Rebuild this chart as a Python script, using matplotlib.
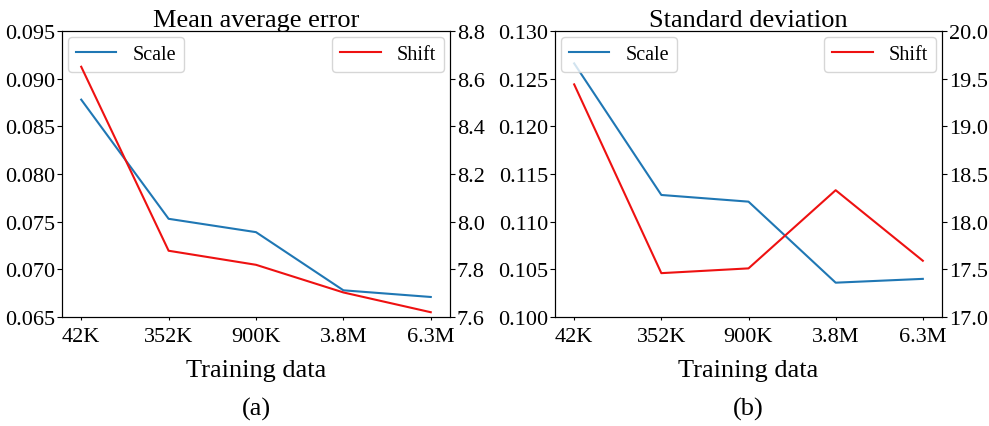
import matplotlib
matplotlib.use("Agg")
import matplotlib.pyplot as plt

plt.rcParams['font.family'] = ['Liberation Serif', 'DejaVu Serif']
plt.rcParams['mathtext.fontset'] = 'stix'

# Training set sizes
sizes = ["42K", "352K", "900K", "3.8M", "6.3M"]

# Mean average error
mae_scale = [0.0878, 0.0753, 0.0739, 0.0678, 0.0671]
mae_shift = [8.65, 7.878, 7.819, 7.703, 7.62]

# Standard deviation
std_scale = [0.1266, 0.1128, 0.1121, 0.1036, 0.1040]
std_shift = [19.44, 17.46, 17.51, 18.33, 17.59]

panels = [
    dict(title="Mean average error", scale=mae_scale, shift=mae_shift,
         ylim_l=(0.065, 0.095), ticks_l=[0.065, 0.070, 0.075, 0.080, 0.085, 0.090, 0.095], fmt_l="{:.3f}",
         ylim_r=(7.6, 8.8), ticks_r=[7.6, 7.8, 8.0, 8.2, 8.4, 8.6, 8.8], fmt_r="{:.1f}",
         tag="(a)", rect=[62/989, 1-318/427, 388/989, 286/427]),
    dict(title="Standard deviation", scale=std_scale, shift=std_shift,
         ylim_l=(0.100, 0.130), ticks_l=[0.100, 0.105, 0.110, 0.115, 0.120, 0.125, 0.130], fmt_l="{:.3f}",
         ylim_r=(17.0, 20.0), ticks_r=[17.0, 17.5, 18.0, 18.5, 19.0, 19.5, 20.0], fmt_r="{:.1f}",
         tag="(b)", rect=[555/989, 1-318/427, 387/989, 286/427]),
]

fig = plt.figure(figsize=(9.89, 4.27), dpi=100)

x = list(range(len(sizes)))
for p in panels:
    ax = fig.add_axes(p["rect"])
    ax2 = ax.twinx()
    l1, = ax.plot(x, p["scale"], color="#1f77b4", lw=1.5, label="Scale")
    l2, = ax2.plot(x, p["shift"], color="#ee1111", lw=1.5, label="Shift")

    ax.set_ylim(*p["ylim_l"])
    ax.set_yticks(p["ticks_l"])
    ax.set_yticklabels([p["fmt_l"].format(v) for v in p["ticks_l"]])
    ax2.set_ylim(*p["ylim_r"])
    ax2.set_yticks(p["ticks_r"])
    ax2.set_yticklabels([p["fmt_r"].format(v) for v in p["ticks_r"]])

    ax.set_xlim(-0.22, 4.22)
    ax.set_xticks(x)
    ax.set_xticklabels(sizes)
    ax.tick_params(axis="x", length=2.5, labelsize=16, pad=5)
    ax.tick_params(axis="y", labelsize=16, length=3.5, pad=1.5)
    ax2.tick_params(axis="y", labelsize=16, length=3.5, pad=1.5)

    ax.set_title(p["title"], fontsize=19, pad=3)
    ax.set_xlabel("Training data", fontsize=19, labelpad=9)

    ax.legend(handles=[l1], loc="upper left", fontsize=14.5,
              borderaxespad=0.3, handlelength=2.0)
    ax2.legend(handles=[l2], loc="upper right", fontsize=14.5,
               borderaxespad=0.3, handlelength=2.0)

    cx = p["rect"][0] + p["rect"][2] / 2
    fig.text(cx, 1 - 409/427, p["tag"], ha="center", va="center", fontsize=19)

fig.savefig("out.png", dpi=100)
